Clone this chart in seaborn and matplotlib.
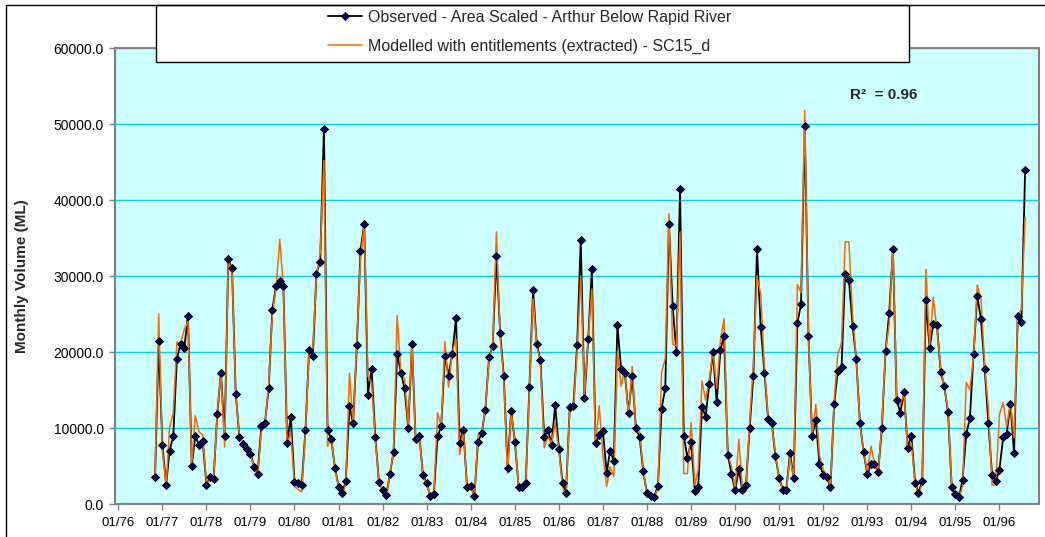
import matplotlib
matplotlib.use("Agg")
import matplotlib.pyplot as plt
import matplotlib.dates as mdates
from matplotlib.lines import Line2D
from matplotlib.patches import Rectangle
from matplotlib.ticker import FuncFormatter
import pandas as pd
import seaborn as sns

# Monthly volumes (ML), starting November 1976
start_month = "1976-11-01"

observed = [
    3500, 21400, 7700, 2500, 7000, 8900, 19100, 21100, 20500, 24800,
    5000, 9000, 7700, 8300, 2500, 3600, 3300, 11900, 17300, 9000,
    32200, 31000, 14500, 8800, 7900, 7200, 6600, 4900, 4000, 10200,
    10700, 15200, 25500, 28700, 29400, 28700, 8000, 11500, 2950, 2800,
    2500, 9800, 20300, 19500, 30300, 31900, 49400, 9800, 8500, 4800,
    2300, 1500, 3000, 12900, 10600, 20900, 33300, 36900, 14400, 17800,
    8800, 2950, 1850, 1200, 3900, 6800, 19800, 17300, 15200, 10000,
    21000, 8600, 9000, 3800, 2700, 1000, 1300, 8900, 10200, 19500,
    16900, 19700, 24500, 8000, 9800, 2300, 2400, 1100, 8200, 9300,
    12400, 19300, 20800, 32600, 22500, 16900, 4800, 12200, 8200, 2300,
    2300, 2800, 15400, 28200, 21100, 18900, 8800, 9800, 7800, 13000,
    7300, 2700, 1500, 12800, 12900, 20900, 34700, 13900, 21700, 30900,
    8000, 9100, 9600, 4100, 7000, 5700, 23500, 17700, 17300, 12000,
    16900, 10000, 8800, 4300, 1400, 1100, 900, 2400, 12500, 15300,
    36900, 26000, 20000, 41500, 9000, 6100, 8100, 1700, 2300, 12800,
    11500, 15800, 20000, 13400, 20300, 22100, 6500, 4000, 1800, 4600,
    1800, 2500, 10000, 16800, 33600, 23300, 17300, 11200, 10600, 6300,
    3400, 1900, 1900, 6700, 3400, 23800, 26300, 49800, 22100, 9000,
    11000, 5300, 3800, 3500, 2200, 13200, 17500, 18000, 30300, 29500,
    23400, 19100, 10600, 6800, 3900, 5300, 5200, 4200, 10000, 20100,
    25100, 33500, 13700, 12000, 14800, 7400, 9000, 2800, 1500, 3000,
    26800, 20500, 23700, 23500, 17400, 15500, 12100, 2300, 1300, 900,
    3200, 9200, 11300, 19800, 27400, 24300, 17800, 10700, 3800, 3000,
    4500, 8800, 9200, 13200, 6700, 24700, 23900, 43900,
]

modelled = [
    3500, 25000, 7000, 2300, 10000, 12000, 21300, 21000, 23000, 24000,
    5300, 11600, 9500, 9100, 2700, 3200, 3300, 12000, 17300, 7500,
    32200, 30500, 14500, 9000, 7800, 7000, 6300, 5000, 3600, 9500,
    10300, 15800, 24800, 28500, 34800, 28500, 7800, 9500, 2300, 1900,
    1600, 9600, 19800, 20500, 30000, 33000, 45200, 7600, 8800, 4600,
    2200, 1100, 2700, 17200, 10500, 21500, 32200, 36900, 16800, 16000,
    8500, 3000, 1800, 700, 4000, 6800, 24800, 17300, 16500, 10300,
    21300, 8500, 9000, 3600, 2600, 1100, 1300, 12000, 10300, 21400,
    15400, 20000, 21700, 6500, 9700, 2200, 2200, 1000, 9000, 9300,
    12500, 19000, 21000, 35800, 22000, 16500, 4000, 12000, 8500, 2300,
    2300, 2500, 15000, 27000, 21000, 18500, 7400, 8900, 8000, 10700,
    7000, 2200, 1100, 12800, 12300, 20100, 30000, 14500, 21700, 28300,
    7600, 12900, 6300, 2300, 4900, 3600, 20100, 15500, 17700, 11500,
    18100, 9500, 9500, 4600, 1100, 1000, 900, 2000, 17300, 19200,
    38200, 21000, 20800, 35800, 4000, 4000, 10700, 2500, 4500, 16200,
    13700, 16300, 20300, 15200, 21500, 24400, 6500, 5000, 2000, 8500,
    2200, 2200, 10800, 18400, 30000, 27600, 17900, 11500, 10200, 6700,
    3200, 1800, 1800, 6100, 3500, 28900, 27800, 51800, 22000, 9000,
    13100, 6400, 4500, 3800, 2200, 13600, 19700, 21200, 34500, 34500,
    24800, 19200, 10500, 6800, 4200, 7600, 5300, 4000, 10500, 20100,
    23700, 33900, 14000, 13000, 14600, 7400, 8000, 2700, 1200, 2700,
    30900, 20800, 27200, 23000, 17900, 15400, 12400, 2700, 1600, 800,
    2300, 16000, 15000, 19500, 28800, 27000, 18200, 12600, 2500, 2500,
    11800, 13300, 10200, 13300, 8700, 24800, 25600, 37700,
]

obs_label = "Observed - Area Scaled - Arthur Below Rapid River"
mod_label = "Modelled with entitlements (extracted) - SC15_d"
r2_text = "R\u00b2  = 0.96"
y_label = "Monthly Volume (ML)"
y_ticks = [0, 10000, 20000, 30000, 40000, 50000, 60000]
tick_years = list(range(1976, 1997))

months = pd.date_range(start_month, periods=len(observed), freq="MS")
df = pd.DataFrame({"Month": months, "Observed": observed, "Modelled": modelled})

sns.set_theme(style="white")
plt.rcParams["font.family"] = ["Liberation Sans", "DejaVu Sans"]

W, H = 1045, 537
fig = plt.figure(figsize=(W / 100, H / 100), dpi=100)
fig.patch.set_facecolor("white")

# plot area in pixel terms: x 115..1039, y 48..504
ax = fig.add_axes([115 / W, 1 - 504 / H, (1039 - 115) / W, (504 - 48) / H])
ax.set_facecolor("#CCFFFF")

sns.lineplot(data=df, x="Month", y="Observed", ax=ax, color="black",
             linewidth=1.3, marker="D", markersize=3.8,
             markerfacecolor="#000066", markeredgecolor="black",
             markeredgewidth=0.6, zorder=3, label=obs_label)
sns.lineplot(data=df, x="Month", y="Modelled", ax=ax, color="#FF6600",
             linewidth=1.1, zorder=4, label=mod_label)
sns.scatterplot(data=df, x="Month", y="Observed", ax=ax, marker="D", s=14,
                color="#000066", edgecolor="black", linewidth=0.6,
                zorder=5, legend=False)

handles, labels = ax.get_legend_handles_labels()
ax.get_legend().remove()

# axes limits and ticks
ax.set_ylim(0, 60000)
ax.set_yticks(y_ticks)
ax.yaxis.set_major_formatter(FuncFormatter(lambda v, p: f"{v:.1f}"))
x_left = mdates.date2num(pd.Timestamp("1975-12-05"))
x_right = mdates.date2num(pd.Timestamp("1996-11-24"))
ax.set_xlim(x_left, x_right)
ax.set_xticks([mdates.date2num(pd.Timestamp(f"{y}-01-01")) for y in tick_years])
ax.xaxis.set_major_formatter(mdates.DateFormatter("%m/%y"))

ax.yaxis.grid(True, color="#14C8F5", linewidth=1.0)
ax.xaxis.grid(False)
ax.set_axisbelow(True)
ax.set_xlabel("")
ax.set_ylabel("")

for side in ["top", "right", "left", "bottom"]:
    ax.spines[side].set_color("#808080")
    ax.spines[side].set_linewidth(1.5)

ax.tick_params(axis="y", which="major", direction="out", length=4, width=1,
               color="#808080", labelsize=10, pad=4, labelcolor="black",
               left=True)
ax.tick_params(axis="x", which="major", direction="out", length=4, width=1,
               color="#808080", labelsize=9.5, pad=5, labelcolor="black",
               bottom=True)

fig.text(22 / W, 1 - 276 / H, y_label, rotation=90, ha="center",
         va="center", fontsize=11, fontweight="bold")

fig.text(850 / W, 1 - 95 / H, r2_text, ha="left", va="center",
         fontsize=11, fontweight="bold")

# legend box over the top of the plot
box = Rectangle((156 / W, 1 - 62 / H), (909 - 156) / W, (62 - 5) / H,
                transform=fig.transFigure, facecolor="white",
                edgecolor="black", linewidth=1.0, zorder=4)
fig.add_artist(box)
leg = fig.legend(handles, labels, loc="upper left",
                 bbox_to_anchor=(328 / W, 1 - 10 / H), frameon=False,
                 fontsize=11.5, handlelength=2.1, handletextpad=0.4,
                 borderpad=0, borderaxespad=0, labelspacing=0.85)
leg.set_zorder(6)

# outer chart frame (left and top edges)
fig.add_artist(Line2D([6 / W, 6 / W], [0, 1 - 5 / H], transform=fig.transFigure,
                      color="black", linewidth=1.0, zorder=7))
fig.add_artist(Line2D([6 / W, 1], [1 - 5 / H, 1 - 5 / H], transform=fig.transFigure,
                      color="black", linewidth=1.0, zorder=7))

fig.savefig("out.png", dpi=100)
